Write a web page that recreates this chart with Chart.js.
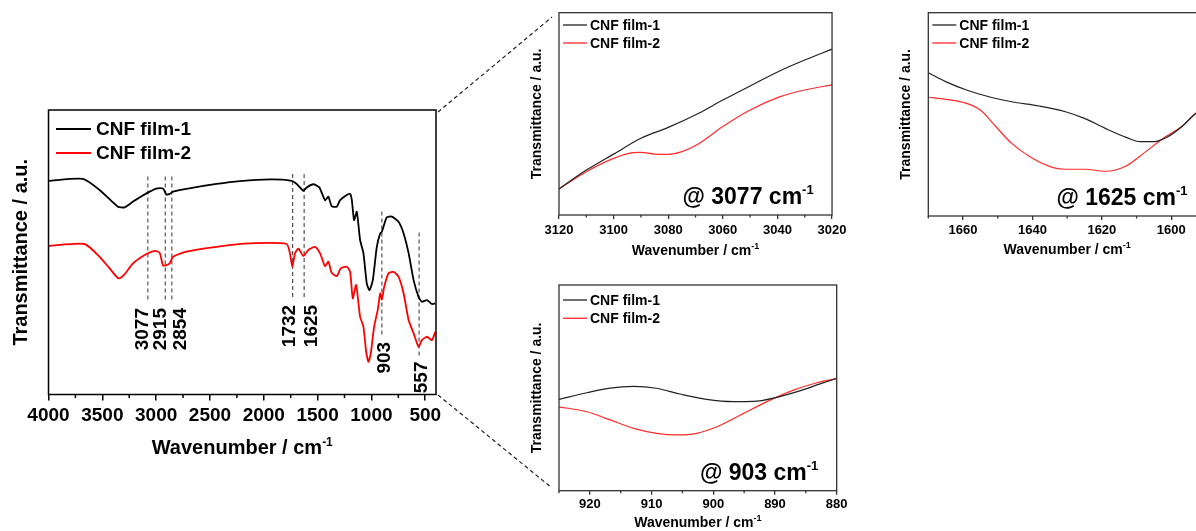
<!DOCTYPE html>
<html>
<head>
<meta charset="utf-8">
<script src="https://cdn.jsdelivr.net/npm/chart.js@4.4.1/dist/chart.umd.min.js"></script>
<style>
  html, body { margin: 0; padding: 0; background: #fff; overflow: hidden; width: 1196px; height: 531px; position: relative; }
  canvas { position: absolute; }
  svg { position: absolute; left: 0; top: 0; }
</style>
</head>
<body>
<canvas id="mainChart" width="450" height="370" style="left:0;top:100px"></canvas>
<canvas id="zoom3077" width="350" height="262" style="left:500px;top:0"></canvas>
<canvas id="zoom1625" width="340" height="262" style="left:880px;top:0"></canvas>
<canvas id="zoom903" width="350" height="259" style="left:500px;top:272px"></canvas>
<svg width="1196" height="531">
  <line x1="438" y1="112" x2="552" y2="17" stroke="#222" stroke-width="1.2" stroke-dasharray="4 3"/>
  <line x1="438" y1="395" x2="552" y2="488" stroke="#222" stroke-width="1.2" stroke-dasharray="4 3"/>
</svg>
<script>
// ---- data: full spectra (wavenumber / transmittance, arbitrary units) ----
const film1Wn = [4000,3680,3525,3355,3292,3215,3090,2998,2936,2905,2874,2843,2718,2439,2222,1943,1741,1694,1632,1601,
  1539,1484,1431,1400,1369,1322,1291,1229,1198,1182,1161,1136,1105,1074,1043,1018,987,950,919,903,
  857,810,748,701,654,608,562,531,484,438,407];
const film1T = [75.1,75.8,71.9,66.0,65.8,67.8,70.7,72.4,72.4,70.3,70.5,71.3,72.3,74.0,75.0,75.6,75.1,74.0,71.6,72.8,
  73.9,72.8,68.3,69.5,66.2,66.0,68.3,70.1,70.5,68.3,61.3,64.2,54.3,49.6,39.0,36.7,40.2,51.9,56.6,57.2,
  62.3,62.5,60.7,56.6,49.6,40.2,34.3,32.6,33.2,31.8,32.0];
const film2Wn = [4000,3665,3525,3432,3348,3292,3215,3090,3013,2967,2936,2905,2874,2843,2718,2439,2129,1788,1757,1735,
  1710,1679,1632,1586,1524,1477,1431,1400,1369,1322,1285,1229,1198,1173,1142,1105,1074,1049,1027,1006,
  975,940,919,903,881,841,794,748,701,654,608,562,531,484,438,407];
const film2T = [52.2,52.9,48.4,44.3,40.8,42.3,46.1,49.4,50.5,49.8,45.3,45.5,46.1,48.4,50.2,51.9,53.1,52.9,49.6,44.9,
  49.6,51.3,48.7,50.8,51.9,49.6,45.1,46.7,42.8,41.6,44.3,44.9,43.1,33.8,38.5,27.3,23.8,15.0,11.5,14.4,
  23.8,30.0,35.5,33.4,37.9,42.6,43.1,41.4,35.5,26.1,21.5,16.8,19.1,20.3,19.1,22.0];

// marked bands
const bandWn = [3077, 2915, 2854, 1732, 1625, 903, 557];
const bandLabels = ['3077', '2915', '2854', '1732', '1625', '903', '557'];
const bandTop = [76.6, 76.6, 76.6, 77.5, 77.5, 64.3, 56.9];
const bandBottom = [32.6, 32.6, 32.6, 33.9, 33.9, 20.9, 12.8];

// zoom @ 3077
const z3077Wn1 = [3120,3110,3100,3090,3080,3069,3060,3050,3039,3030,3020];
const z3077T1 = [12.9,22.2,30.1,37.9,43.3,50.2,56.8,63.8,71.3,76.6,82.0];
const z3077Wn2 = [3120,3110,3100,3093,3090,3085,3080,3075,3069,3060,3050,3039,3030,3020];
const z3077T2 = [12.9,21.4,28.0,30.8,31.0,30.1,30.0,31.3,35.1,43.7,51.9,58.5,61.8,64.3];

// zoom @ 1625
const z1625Wn1 = [1670,1665,1659,1652,1646,1638,1630.5,1625,1619,1613,1609,1605,1601,1597,1593.5,1590];
const z1625T1 = [70.5,66.1,62.0,58.4,56.2,54.1,51.3,48.0,43.1,38.7,36.6,36.6,39.0,43.9,49.7,54.5];
const z1625Wn2 = [1670,1665,1659,1655,1650.5,1646,1640,1634,1630.5,1625,1619,1613,1608,1602,1597,1593.5,1590];
const z1625T2 = [58.4,57.4,55.4,52.1,43.9,35.7,28.4,23.8,23.0,23.0,22.0,24.6,30.8,38.6,44.0,49.7,54.5];

// zoom @ 903
const z903Wn1 = [925,920.5,916.7,912.9,909.2,905.4,901.1,896.7,893.5,889.7,886,882.7,880];
const z903T1 = [44.4,47.6,49.9,50.7,49.8,47.0,44.4,43.3,43.4,45.4,48.5,51.9,54.6];
const z903Wn2 = [925,920.5,916.7,912.9,909.2,905.9,902.7,899.4,895.6,891.3,887,883.2,880];
const z903T2 = [40.8,38.4,34.4,30.3,27.9,27.1,27.9,31.1,36.8,43.3,48.9,52.5,54.5];

// axis ticks
const mainTicks = [4000,3500,3000,2500,2000,1500,1000,500];
const mainMinor = [3750,3250,2750,2250,1750,1250,750];
const z3077Ticks = [3120,3100,3080,3060,3040,3020];
const z3077Minor = [3110,3090,3070,3050,3030];
const z1625Ticks = [1660,1640,1620,1600];
const z1625Minor = [1670,1650,1630,1610,1590];
const z903Ticks = [920,910,900,890,880];
const z903Minor = [925,915,905,895,885];

const seriesNames = ['CNF film-1', 'CNF film-2'];
const FONT = "'Liberation Sans', Arial, sans-serif";
Chart.defaults.font.family = FONT;
Chart.defaults.color = '#000';

function spectrum(wn, t) {
  return wn.map((w, i) => ({ x: w, y: t[i] }));
}

function drawSup(ctx, base, sup, x, y, size, supSize, rise, align) {
  ctx.font = 'bold ' + size + 'px ' + FONT;
  const w1 = ctx.measureText(base).width;
  ctx.font = 'bold ' + supSize + 'px ' + FONT;
  const w2 = ctx.measureText(sup).width;
  let start = x;
  if (align === 'center') start = x - (w1 + w2) / 2;
  if (align === 'right') start = x - w1 - w2;
  ctx.textAlign = 'left';
  ctx.textBaseline = 'alphabetic';
  ctx.font = 'bold ' + size + 'px ' + FONT;
  ctx.fillText(base, start, y);
  ctx.font = 'bold ' + supSize + 'px ' + FONT;
  ctx.fillText(sup, start + w1, y - rise);
}

// frame, minor ticks, legend, titles, notes
const decor = {
  id: 'decor',
  afterDatasetsDraw(chart, args, o) {
    const { ctx, chartArea: a, scales: { x, y } } = chart;
    ctx.save();
    ctx.fillStyle = '#000';
    ctx.strokeStyle = o.frameColor;
    ctx.lineWidth = o.frameWidth;
    ctx.strokeRect(a.left, a.top, a.right - a.left, a.bottom - a.top);

    ctx.beginPath();
    o.minor.forEach(v => {
      const px = x.getPixelForValue(v);
      ctx.moveTo(px, a.bottom);
      ctx.lineTo(px, a.bottom + o.minorLen);
    });
    ctx.stroke();

    // legend
    chart.data.datasets.slice(0, 2).forEach((ds, i) => {
      const ly = a.top + o.legend.y[i];
      ctx.strokeStyle = ds.borderColor;
      ctx.lineWidth = o.legend.lineWidth;
      ctx.beginPath();
      ctx.moveTo(a.left + o.legend.x0, ly);
      ctx.lineTo(a.left + o.legend.x1, ly);
      ctx.stroke();
      ctx.font = 'bold ' + o.legend.size + 'px ' + FONT;
      ctx.textAlign = 'left';
      ctx.textBaseline = 'middle';
      ctx.fillText(ds.label, a.left + o.legend.tx, ly + 1);
    });

    // x title
    const xt = o.xTitle;
    drawSup(ctx, 'Wavenumber / cm', '-1', (a.left + a.right) / 2, a.bottom + xt.dy, xt.size, xt.supSize, xt.rise, 'center');

    // "@ ... cm-1"
    if (o.note) {
      drawSup(ctx, o.note.text, '-1', a.right - o.note.dx, a.bottom - o.note.dy, o.note.size, o.note.supSize, o.note.rise, 'right');
    }

    // band labels
    if (o.bands) {
      const b = o.bands;
      ctx.font = 'bold ' + b.size + 'px ' + FONT;
      ctx.textAlign = 'right';
      ctx.textBaseline = 'alphabetic';
      bandLabels.forEach((lab, i) => {
        const px = x.getPixelForValue(bandWn[i]) + b.dx[i];
        const py = y.getPixelForValue(b.y[i]);
        ctx.save();
        ctx.translate(px, py);
        ctx.rotate(-Math.PI / 2);
        ctx.fillText(lab, 0, 0);
        ctx.restore();
      });
    }
    ctx.restore();
  }
};

function makeChart(id, c) {
  return new Chart(document.getElementById(id), {
    type: 'line',
    data: { datasets: c.datasets },
    options: {
      responsive: false,
      animation: false,
      events: [],
      layout: { padding: c.padding },
      elements: { point: { radius: 0 } },
      plugins: {
        legend: { display: false },
        tooltip: { enabled: false },
        decor: c.decor
      },
      scales: {
        x: {
          type: 'linear', reverse: true, min: c.xMin, max: c.xMax,
          afterBuildTicks: s => { s.ticks = c.ticks.map(v => ({ value: v })); },
          afterFit: s => { s.height = c.xHeight; },
          ticks: { autoSkip: false, maxRotation: 0, padding: c.tickPad, color: '#000',
                   font: { size: c.tickSize, weight: 'bold' }, callback: v => String(v) },
          grid: { drawOnChartArea: false, drawTicks: true, tickLength: c.tickLen, color: c.decor.frameColor, lineWidth: c.decor.frameWidth },
          border: { display: false }
        },
        y: {
          min: 0, max: 100,
          afterFit: s => { s.width = c.yWidth; },
          ticks: { display: false },
          grid: { display: false },
          border: { display: false },
          title: { display: true, text: 'Transmittance / a.u.', color: '#000',
                   font: { size: c.yTitleSize, weight: 'bold' }, padding: { top: c.yTitlePad, bottom: 0 } }
        }
      }
    },
    plugins: [decor]
  });
}

function bandLines() {
  return bandWn.map((w, i) => ({
    label: 'band ' + bandLabels[i],
    data: [{ x: w, y: bandTop[i] }, { x: w, y: bandBottom[i] }],
    borderColor: '#555', borderWidth: 1.2, borderDash: [4, 3], tension: 0
  }));
}

// main spectrum
makeChart('mainChart', {
  datasets: [
    { label: seriesNames[0], data: spectrum(film1Wn, film1T), borderColor: '#000', borderWidth: 1.8, tension: 0.2 },
    { label: seriesNames[1], data: spectrum(film2Wn, film2T), borderColor: '#ff0000', borderWidth: 1.8, tension: 0.2 }
  ].concat(bandLines()),
  padding: { top: 10, right: 14, left: 0, bottom: 0 },
  xMin: 400, xMax: 4000, ticks: mainTicks,
  xHeight: 75.5, yWidth: 48.5,
  tickPad: 4, tickLen: 6, tickSize: 19,
  yTitleSize: 20, yTitlePad: 9,
  decor: {
    frameColor: '#000', frameWidth: 1.5, minor: mainMinor, minorLen: 3.5,
    legend: { x0: 7.5, x1: 42.5, tx: 47.5, y: [19, 43], size: 19, lineWidth: 2 },
    xTitle: { dy: 59.5, size: 20, supSize: 12, rise: 8 },
    bands: { size: 19, dx: [0, 1, 14.6, 2.4, 12.6, 8.3, 7.8], y: [30.4, 30.4, 30.4, 31.5, 31.5, 18.5, 11.6] }
  }
});

function insetDecor(minor, legendY, note, xDy) {
  return {
    frameColor: '#333', frameWidth: 1.3, minor: minor, minorLen: 2.5,
    legend: { x0: 4, x1: 28, tx: 31, y: legendY, size: 14, lineWidth: 1.3 },
    xTitle: { dy: xDy, size: 14, supSize: 9, rise: 6 },
    note: { text: note, dx: 18.4, dy: 11, size: 23, supSize: 13, rise: 10 }
  };
}

function insetSets(wn1, t1, wn2, t2) {
  return [
    { label: seriesNames[0], data: spectrum(wn1, t1), borderColor: '#222', borderWidth: 1.2, cubicInterpolationMode: 'monotone' },
    { label: seriesNames[1], data: spectrum(wn2, t2), borderColor: '#ff2a2a', borderWidth: 1.2, cubicInterpolationMode: 'monotone' }
  ];
}

makeChart('zoom3077', {
  datasets: insetSets(z3077Wn1, z3077T1, z3077Wn2, z3077T2),
  padding: { top: 12.7, right: 13.3, left: 0, bottom: 0 },
  xMin: 3020, xMax: 3120, ticks: z3077Ticks,
  xHeight: 47, yWidth: 59,
  tickPad: 3.5, tickLen: 4, tickSize: 13,
  yTitleSize: 14, yTitlePad: 28.3,
  decor: insetDecor(z3077Minor, [12.3, 30.3], '@ 3077 cm', 39.5)
});

makeChart('zoom1625', {
  datasets: insetSets(z1625Wn1, z1625T1, z1625Wn2, z1625T2),
  padding: { top: 12.7, right: 14, left: 0, bottom: 0 },
  xMin: 1590, xMax: 1670, ticks: z1625Ticks,
  xHeight: 46, yWidth: 48.3,
  tickPad: 2.5, tickLen: 4, tickSize: 13,
  yTitleSize: 14, yTitlePad: 17.6,
  decor: insetDecor(z1625Minor, [12.3, 30.3], '@ 1625 cm', 38)
});

makeChart('zoom903', {
  datasets: insetSets(z903Wn1, z903T1, z903Wn2, z903T2),
  padding: { top: 13, right: 13.3, left: 0, bottom: 0 },
  xMin: 880, xMax: 925, ticks: z903Ticks,
  xHeight: 40.3, yWidth: 59,
  tickPad: 1.8, tickLen: 4, tickSize: 13,
  yTitleSize: 14, yTitlePad: 28.6,
  decor: insetDecor(z903Minor, [15, 33.3], '@ 903 cm', 36)
});
</script>
</body>
</html>
